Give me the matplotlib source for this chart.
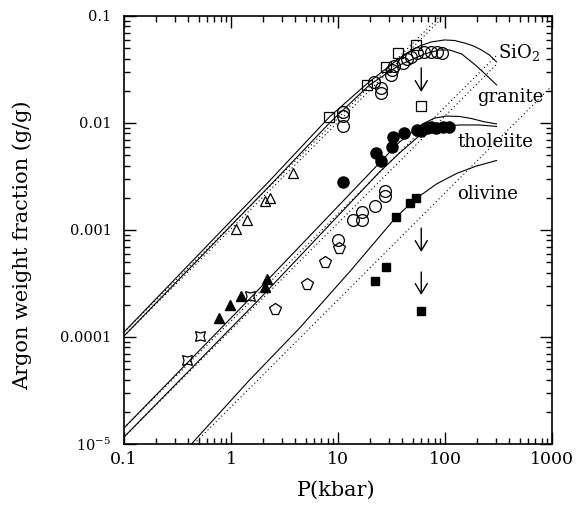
"""Argon solubility vs pressure in silicate melts (log-log)."""

import matplotlib
matplotlib.use("Agg")
import matplotlib.pyplot as plt

plt.rcParams["font.family"] = ["DejaVu Serif"]
plt.rcParams["mathtext.fontset"] = "dejavuserif"

# ---------------------------------------------------------------- model curves
sio2_p = [0.1, 2.33, 8.33, 18.5, 37.6, 46.6, 57.8, 74.8, 98.9, 122.7, 152, 185, 219, 260, 303]
sio2_y = [1.11e-4, 2.93e-3, 0.0114, 0.0231, 0.0405, 0.0466, 0.0524, 0.0572, 0.0597,
          0.0590, 0.0559, 0.0524, 0.0481, 0.0432, 0.0372]

gran_p = [0.1, 2.59, 8.33, 19.7, 37.6, 64.3, 88.8, 110, 143, 197, 260, 303]
gran_y = [1.02e-4, 2.93e-3, 0.0100, 0.0227, 0.0348, 0.0442, 0.0481, 0.0481,
          0.0442, 0.0341, 0.0263, 0.0227]

thol1_p = [0.1, 1.46, 24.4, 37.6, 61.6, 79.8, 103, 137, 177, 229, 303]
thol1_y = [1.41e-5, 2.22e-4, 4.23e-3, 6.65e-3, 9.79e-3, 0.0111, 0.0116, 0.0115,
           0.0110, 0.0103, 0.0098]

thol2_p = [0.1, 1.81, 24.4, 37.6, 61.6, 79.8, 103, 137, 210, 303]
thol2_y = [1.16e-5, 2.22e-4, 3.48e-3, 5.24e-3, 8.06e-3, 8.89e-3, 9.38e-3, 9.58e-3,
           9.58e-3, 9.28e-3]

oliv_p = [0.427, 1.49, 4.37, 12.8, 34.5, 53.0, 83.3, 128, 197, 303]
oliv_y = [1.0e-5, 3.96e-5, 1.21e-4, 4.05e-4, 1.30e-3, 1.95e-3, 2.69e-3, 3.37e-3,
          3.96e-3, 4.46e-3]

# Henry's-law (linear) extrapolations, dotted
dot_sio2_p, dot_sio2_y = [0.1, 100], [1.11e-4, 0.111]
dot_gran_p, dot_gran_y = [0.1, 100], [1.02e-4, 0.102]
dot_thol1_p, dot_thol1_y = [0.1, 300], [1.41e-5, 0.0423]
dot_thol2_p, dot_thol2_y = [0.1, 300], [1.16e-5, 0.0349]
dot_oliv_p, dot_oliv_y = [0.45, 1000], [1.0e-5, 0.0222]

# ---------------------------------------------------------------- measurements
sq_open_p = [8.3, 18.5, 28, 36, 54, 60]
sq_open_y = [0.0114, 0.0224, 0.0337, 0.0448, 0.0536, 0.0143]

circ_open_p = [11.2, 11.2, 11.2, 21.9, 25, 25, 31.6, 32.3, 33.7, 40.9, 43.7, 48.6,
               55.3, 64.3, 74.8, 85, 93]
circ_open_y = [0.0127, 0.0115, 0.0094, 0.0239, 0.0212, 0.0191, 0.0281, 0.0313,
               0.0341, 0.0364, 0.0392, 0.0418, 0.0451, 0.0461, 0.0461, 0.0456, 0.0451]

circ_fill_p = [11.2, 22.9, 25, 32.3, 33, 41.8, 54.2, 60.3, 67.2, 74.8, 83.3, 94.8, 110]
circ_fill_y = [0.00281, 0.00524, 0.00441, 0.00597, 0.0074, 0.00806, 0.0086, 0.00833,
               0.00888, 0.00918, 0.00898, 0.00918, 0.00918]

circ_low_p = [10.1, 13.7, 16.9, 16.9, 22.4, 27.8, 27.8]
circ_low_y = [0.000798, 0.00125, 0.00147, 0.00125, 0.00169, 0.00229, 0.00206]

pent_p = [2.6, 5.1, 7.6, 10.2]
pent_y = [0.000183, 0.00031, 0.000502, 0.000675]

tri_open_p = [1.12, 1.4, 2.1, 2.34, 3.76]
tri_open_y = [0.00102, 0.00123, 0.00187, 0.00201, 0.00341]

tri_fill_p = [0.78, 0.97, 1.23, 2.06, 2.19]
tri_fill_y = [0.000151, 0.000199, 0.000242, 0.000293, 0.000345]

star_p = [0.384, 0.511, 1.52]
star_y = [6.1e-5, 1.02e-4, 2.44e-4]

sq_fill_p = [22.4, 28.2, 34.5, 47.6, 53.8, 60]
sq_fill_y = [0.000334, 0.000448, 0.00133, 0.0018, 0.002, 0.000176]

# upper limits drawn as down arrows (P, y_from, y_to)
arrow_p = [60, 60, 60]
arrow_y0 = [0.0327, 0.00104, 0.000405]
arrow_y1 = [0.0195, 0.000623, 0.000247]

curve_labels = [r"SiO$_2$", "granite", "tholeiite", "olivine"]
label_p = [310, 201, 131, 131]
label_y = [0.0405, 0.0157, 0.00597, 0.00195]

xtick_vals = [0.1, 1, 10, 100, 1000]
xtick_text = ["0.1", "1", "10", "100", "1000"]
ytick_vals = [1e-5, 1e-4, 1e-3, 1e-2, 1e-1]
ytick_text = [r"$10^{-5}$", "0.0001", "0.001", "0.01", "0.1"]

fig = plt.figure(figsize=(5.78, 5.07), dpi=100)
ax = fig.add_axes([0.2145, 0.1243, 0.7405, 0.8442])
ax.set_xscale("log")
ax.set_yscale("log")

for p, y in [(sio2_p, sio2_y), (gran_p, gran_y), (thol1_p, thol1_y),
             (thol2_p, thol2_y), (oliv_p, oliv_y)]:
    ax.plot(p, y, color="black", lw=0.8)

for p, y in [(dot_sio2_p, dot_sio2_y), (dot_gran_p, dot_gran_y),
             (dot_thol1_p, dot_thol1_y), (dot_thol2_p, dot_thol2_y),
             (dot_oliv_p, dot_oliv_y)]:
    ax.plot(p, y, color="black", lw=0.8, ls=(0, (1, 2.5)))

open_kw = dict(ls="none", mfc="none", mec="black", mew=0.9)
ax.plot(sq_open_p, sq_open_y, marker="s", ms=6.5, **open_kw)
ax.plot(circ_open_p, circ_open_y, marker="o", ms=8.5, **open_kw)
ax.plot(circ_low_p, circ_low_y, marker="o", ms=8.5, **open_kw)
ax.plot(pent_p, pent_y, marker="p", ms=8.5, **open_kw)
ax.plot(tri_open_p, tri_open_y, marker="^", ms=7, **open_kw)
ax.plot(star_p, star_y, marker=(4, 1, 45), ms=10, **open_kw)

ax.plot(circ_fill_p, circ_fill_y, ls="none", marker="o", ms=8, color="black")
ax.plot(tri_fill_p, tri_fill_y, ls="none", marker="^", ms=7, color="black")
ax.plot(sq_fill_p, sq_fill_y, ls="none", marker="s", ms=5.5, color="black")

for p, y0, y1 in zip(arrow_p, arrow_y0, arrow_y1):
    ax.annotate("", xy=(p, y1), xytext=(p, y0),
                arrowprops=dict(arrowstyle="->,head_length=0.6,head_width=0.36",
                                color="black", lw=1.0, mutation_scale=12,
                                shrinkA=0, shrinkB=0))

for txt, p, y in zip(curve_labels, label_p, label_y):
    ax.text(p, y, txt, fontsize=13, ha="left", va="baseline")

ax.set_xlim(0.1, 1000)
ax.set_ylim(1e-5, 0.1)
ax.set_xticks(xtick_vals)
ax.set_xticklabels(xtick_text)
ax.set_yticks(ytick_vals)
ax.set_yticklabels(ytick_text)

ax.tick_params(which="both", direction="in", top=True, right=True, width=1.0)
ax.tick_params(which="major", length=8.6)
ax.tick_params(which="minor", length=4.3)
ax.tick_params(axis="y", which="major", pad=9, labelsize=10.5)
ax.tick_params(axis="x", which="major", pad=5, labelsize=12.5)
for s in ax.spines.values():
    s.set_linewidth(1.2)

ax.set_xlabel("P(kbar)", fontsize=15)
ax.set_ylabel("Argon weight fraction (g/g)", fontsize=15)
ax.xaxis.set_label_coords(0.495, -0.085)
ax.yaxis.set_label_coords(-0.215, 0.465)

fig.savefig("out.png", dpi=100)
